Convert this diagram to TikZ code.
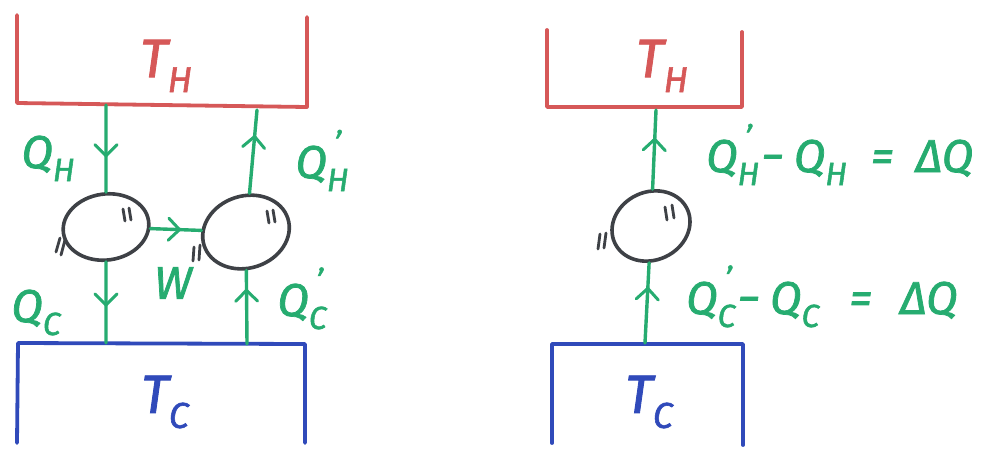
\documentclass[tikz,border=0pt]{standalone}
\usepackage{fontspec}
\setmainfont{Fira Sans}[FakeBold=1.6]
\usetikzlibrary{arrows.meta,decorations.markings,shapes.geometric}
\definecolor{hot}{RGB}{214,88,88}
\definecolor{cold}{RGB}{48,74,186}
\definecolor{heat}{RGB}{38,172,112}
\definecolor{engcol}{RGB}{62,65,70}
% subscripts for labels (lab) and for reservoirs (big)
\newcommand\lo[1]{\raisebox{-13pt}{\fontsize{32}{34}\selectfont #1}}
\newcommand\loB[1]{\raisebox{-15pt}{\fontsize{36}{38}\selectfont #1}}
\newcommand\qprime[1]{Q\raisebox{-13pt}{\fontsize{32}{34}\selectfont\shortstack[l]{\kern7pt'\\[12pt]#1}}}
\begin{document}
\begin{tikzpicture}[x=1pt,y=-1pt,
 res/.style={line width=3.8pt, line cap=round, line join=round},
 flow/.style={heat, line width=3.4pt, line cap=round},
 midarrow/.style={postaction={decorate}, decoration={markings, mark=at position #1 with {\arrow{Straight Barb[length=11pt,width=22pt,line width=3pt,round]}}}},
 enginebox/.style={ellipse, draw=engcol, line width=3.6pt, inner sep=0pt},
 tickline/.style={draw=engcol, line width=2.8pt, line cap=round},
 lab/.style={heat, font=\fontsize{46}{50}\selectfont\itshape, inner sep=0pt},
 big/.style={font=\fontsize{54}{58}\selectfont\itshape, inner sep=0pt}]
\useasboundingbox[fill=white] (0,0) rectangle (993,451);

% ---------- left diagram ----------
\draw[res, hot] (17,15) -- (17,103) -- (307,107) -- (307,17);
\node[hot, big] (TH1) at (166,66) {T\loB{H}};
\draw[res, cold] (17,443) -- (18,343) -- (305,344) -- (305,443);
\node[cold, big] (TC1) at (165,402) {T\loB{C}};

\node[enginebox, minimum width=86pt, minimum height=66pt, rotate=8] (E1) at (106,227) {};
\node[enginebox, minimum width=88pt, minimum height=72pt, rotate=18] (E2) at (246,232) {};

\coordinate (h1) at (106,105);
\coordinate (c1) at (106,343);
\coordinate (h2) at (257,110);
\coordinate (c2) at (247,344);

\draw[flow, midarrow=0.6] (h1) -- (E1);
\draw[flow, midarrow=0.55] (E1) -- (c1);
\draw[flow, midarrow=0.7] (E2) -- (h2);
\draw[flow, midarrow=0.75] (c2) -- (E2);
\draw[flow, midarrow=0.6] (E1) -- (E2);

\node[lab, anchor=base] (QH) at (48,168) {Q\lo{H}};
\node[lab, anchor=base] (QC) at (36,322) {Q\lo{C}};
\node[lab, anchor=base] (QH2) at (322,178) {\qprime{H}};
\node[lab, anchor=base] (QC2) at (302,316) {\qprime{C}};
\node[lab] (W) at (173,283) {W};

\draw[tickline] (123,209) -- (125,221) (129,208) -- (131,220);
\draw[tickline] (60,238) -- (56,252) (65,240) -- (61,255);
\draw[tickline] (194,247) -- (193,261) (200,245) -- (199,260);
\draw[tickline] (267,211) -- (269,223) (273,210) -- (275,222);

% ---------- right diagram ----------
\draw[res, hot] (547,30) -- (547,107) -- (742,107) -- (742,32);
\node[hot, big] (TH2) at (662,66) {T\loB{H}};
\draw[res, cold] (552,443) -- (552,344) -- (743,344) -- (743,445);
\node[cold, big] (TC2) at (649,402) {T\loB{C}};

\node[enginebox, minimum width=80pt, minimum height=68pt, rotate=25] (E3) at (651,226) {};
\coordinate (h3) at (656,110);
\coordinate (c3) at (645,343);
\draw[flow, midarrow=0.65] (E3) -- (h3);
\draw[flow, midarrow=0.7] (c3) -- (E3);

\draw[tickline] (665,207) -- (667,220) (672,205) -- (674,218);
\draw[tickline] (600,234) -- (598,249) (606,233) -- (604,248);

\node[lab, anchor=base west] (eq1) at (706,172) {\qprime{H}\kern2pt−\kern10pt Q\lo{H}\kern24pt=\kern22pt ΔQ};
\node[lab, anchor=base west] (eq2) at (686,314) {\qprime{C}\kern2pt−\kern10pt Q\lo{C}\kern30pt=\kern28pt ΔQ};
\end{tikzpicture}
\end{document}
